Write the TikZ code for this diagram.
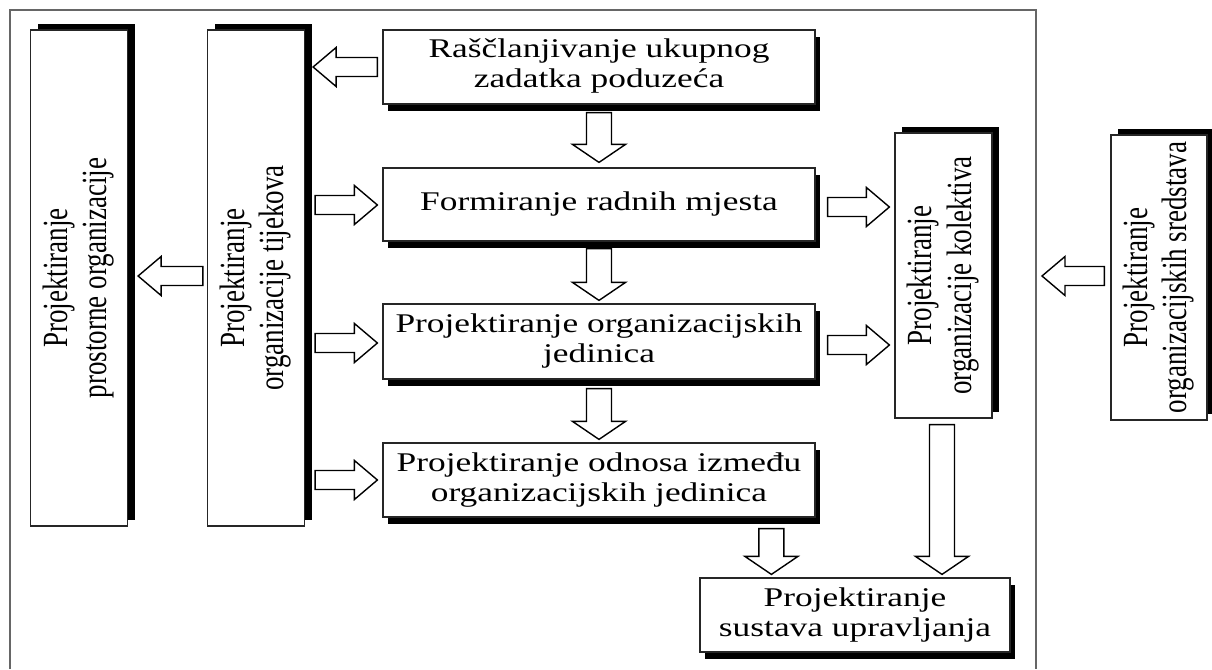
\documentclass[tikz,border=0pt]{standalone}
\usepackage{fontspec}
\setmainfont{Liberation Serif}
\usepackage{graphicx}
\usetikzlibrary{calc,shadows}

\newcommand\htxt[1]{\scalebox{1.31}[1]{\begin{tabular}{@{}c@{}}#1\end{tabular}}}
\newcommand\vtxt[1]{\scalebox{1.31}[1]{\rotatebox{90}{\begin{tabular}{@{}c@{}}#1\end{tabular}}}}

% horizontal block arrow from #1 (tail) to #2 (tip)
\newcommand\harrow[2]{%
 \draw[barrow] let \p1=(#1), \p2=(#2), \n1={sign(\x2-\x1)} in
 (\x1,{\y1+9.5pt}) -- ({\x2-\n1*23pt},{\y1+9.5pt}) -- ({\x2-\n1*23pt},{\y1+19.5pt}) -- (\x2,\y1)
 -- ({\x2-\n1*23pt},{\y1-19.5pt}) -- ({\x2-\n1*23pt},{\y1-9.5pt}) -- (\x1,{\y1-9.5pt}) -- cycle;}
% vertical block arrow from #1 (tail) to #2 (tip)
\newcommand\varrow[2]{%
 \draw[barrow] let \p1=(#1), \p2=(#2), \n1={sign(\y2-\y1)} in
 ({\x1-12.5pt},\y1) -- ({\x1-12.5pt},{\y2-\n1*18pt}) -- ({\x1-26.5pt},{\y2-\n1*18pt}) -- (\x1,\y2)
 -- ({\x1+26.5pt},{\y2-\n1*18pt}) -- ({\x1+12.5pt},{\y2-\n1*18pt}) -- ({\x1+12.5pt},\y1) -- cycle;}

\begin{document}
\begin{tikzpicture}[x=1pt,y=-1pt,
  font=\fontsize{27}{30}\selectfont,
  box/.style={draw=black!85, line width=1.2pt, fill=white, inner sep=0pt, text=black},
  hbox/.style={box, minimum width=432pt, drop shadow={shadow xshift=5pt, shadow yshift=-7pt, opacity=1, fill=black}},
  vbox/.style={box, minimum width=97pt, drop shadow={shadow xshift=7pt, shadow yshift=6pt, opacity=1, fill=black}},
  barrow/.style={draw=black, line width=1.4pt, fill=white, line join=miter},
  frame/.style={draw=black!60, line width=2pt}]
\useasboundingbox (0,0) rectangle (1212,669);
\fill[white] (0,0) rectangle (1212,669);

\draw[frame] (10,669) -- (10,10) -- (1036,10) -- (1036,669);
\coordinate (frameR) at (1042,276);

\node[vbox, minimum height=496pt] (prost) at (79,278) {\vtxt{Projektiranje\\prostorne organizacije}};
\node[vbox, minimum height=496pt] (tij) at (256,278) {\vtxt{Projektiranje\\organizacije tijekova}};
\node[hbox, minimum height=74pt] (rasc) at (599,67) {\htxt{Raščlanjivanje ukupnog\\zadatka poduzeća}};
\node[hbox, minimum height=73pt] (form) at (599,204.5) {\htxt{Formiranje radnih mjesta}};
\node[hbox, minimum height=75pt] (jed) at (599,341.5) {\htxt{Projektiranje organizacijskih\\jedinica}};
\node[hbox, minimum height=74pt] (odn) at (599,480) {\htxt{Projektiranje odnosa između\\organizacijskih jedinica}};
\node[vbox, minimum height=285pt] (kol) at (943.5,275.5) {\vtxt{Projektiranje\\organizacije kolektiva}};
\node[vbox, minimum height=285pt, minimum width=96pt] (sred) at (1159,277.5) {\vtxt{Projektiranje\\organizacijskih sredstava}};
\node[hbox, minimum height=74pt, minimum width=310pt] (upr) at (855,615) {\htxt{Projektiranje\\sustava upravljanja}};

% horizontal arrows
\harrow{$(rasc.west)+(-5,0)$}{$(tij.east|-rasc.west)+(8,0)$}
\harrow{$(tij.west)+(-4,-2)$}{$(prost.east|-tij.west)+(10,-2)$}
\harrow{$(tij.east|-form.west)+(10,0.5)$}{$(form.west)+(-5,0.5)$}
\harrow{$(tij.east|-jed.west)+(10,1.5)$}{$(jed.west)+(-5,1.5)$}
\harrow{$(tij.east|-odn.west)+(10,0)$}{$(odn.west)+(-5,0)$}
\harrow{$(form.east)+(12,2.5)$}{$(kol.west|-form.east)+(-5,2.5)$}
\harrow{$(jed.east)+(12,3.5)$}{$(kol.west|-jed.east)+(-5,3.5)$}
\harrow{$(sred.west)+(-6,-1.5)$}{frameR}

% vertical arrows
\varrow{$(rasc.south)+(0,8)$}{$(form.north)+(0,-5)$}
\varrow{$(form.south)+(0,7)$}{$(jed.north)+(0,-3)$}
\varrow{$(jed.south)+(0,9)$}{$(odn.north)+(0,-3)$}
\varrow{$(upr.north west|-odn.south)+(72,11)$}{$(upr.north west)+(72,-3)$}
\varrow{$(kol.south)+(-1.5,6)$}{$(kol.south|-upr.north)+(-1.5,-3)$}
\end{tikzpicture}
\end{document}
